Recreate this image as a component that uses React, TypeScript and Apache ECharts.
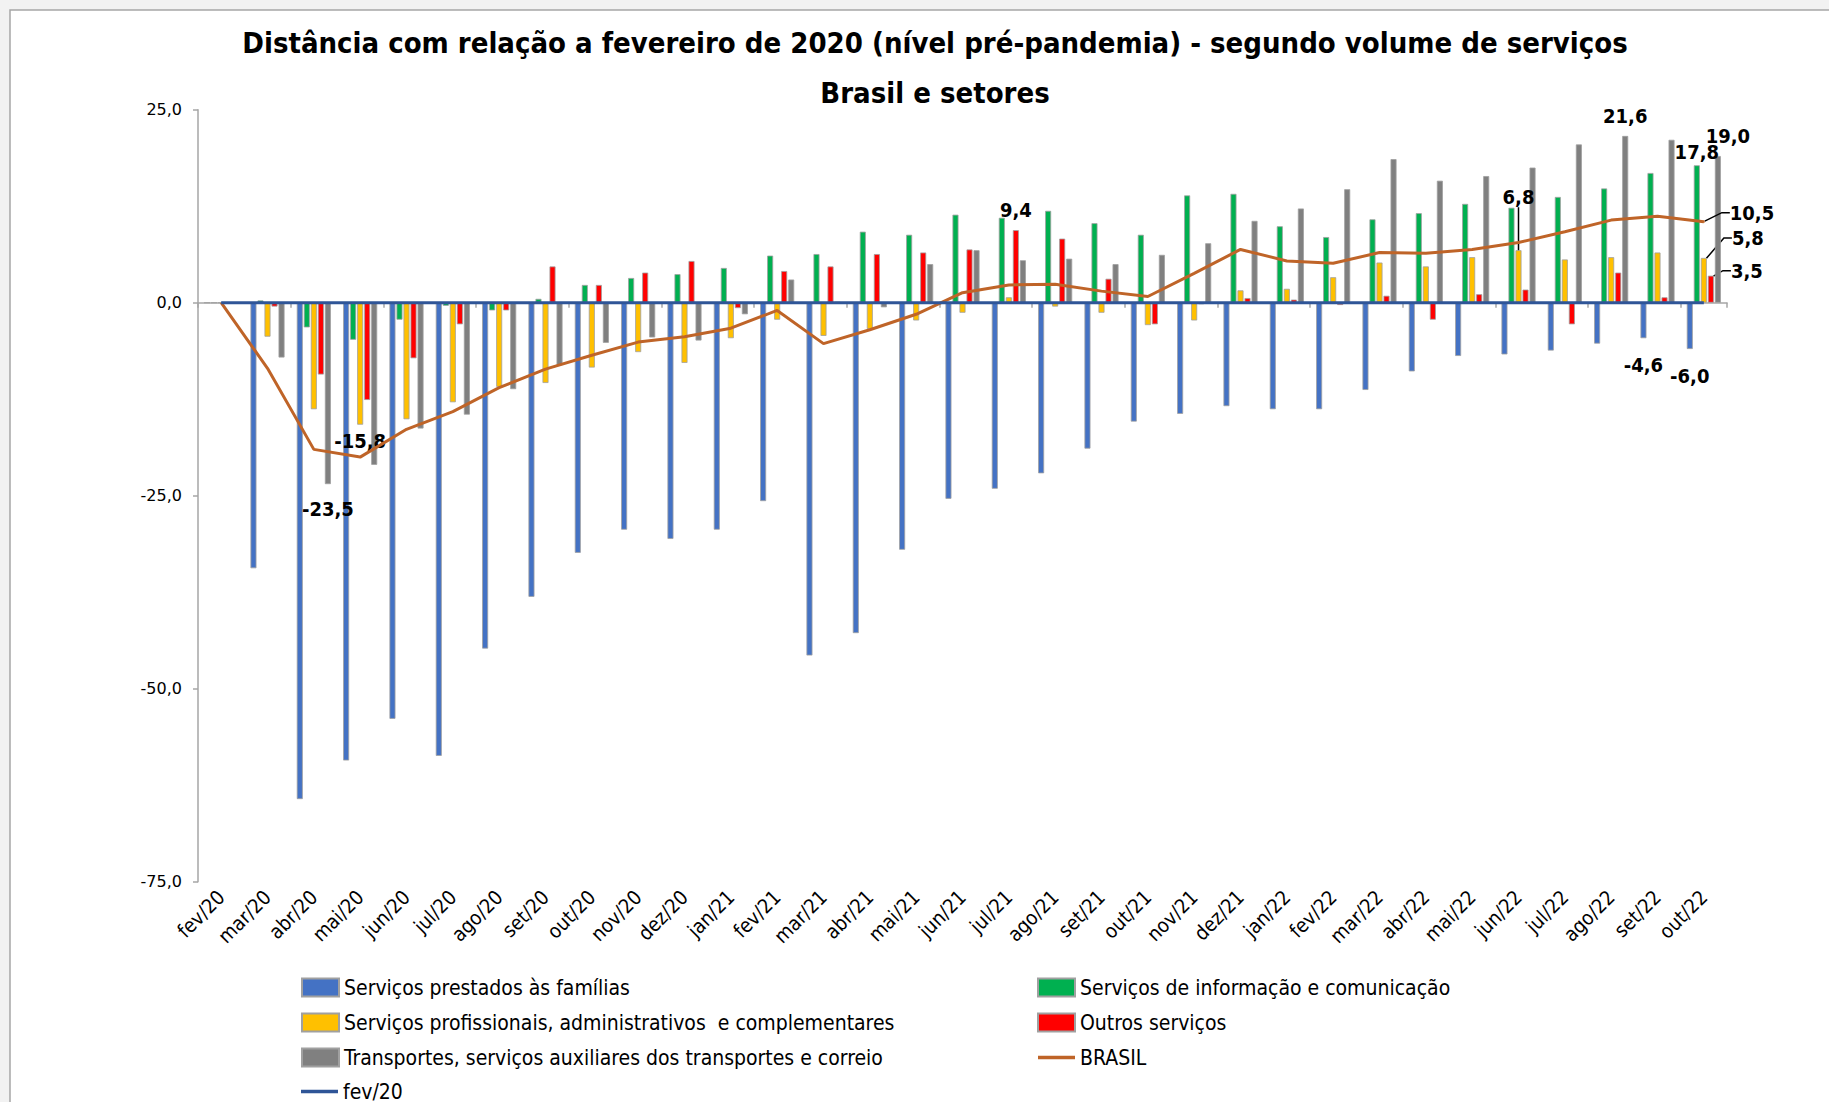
import React, { useEffect, useRef } from 'react';
import * as echarts from 'echarts';

const categories = ['fev/20','mar/20','abr/20','mai/20','jun/20','jul/20','ago/20','set/20','out/20','nov/20','dez/20','jan/21','fev/21','mar/21','abr/21','mai/21','jun/21','jul/21','ago/21','set/21','out/21','nov/21','dez/21','jan/22','fev/22','mar/22','abr/22','mai/22','jun/22','jul/22','ago/22','set/22','out/22'];

const familias = [0, -34.4, -64.3, -59.3, -53.9, -58.7, -44.8, -38.1, -32.4, -29.4, -30.6, -29.4, -25.7, -45.7, -42.8, -32.0, -25.4, -24.1, -22.1, -18.9, -15.4, -14.4, -13.4, -13.8, -13.8, -11.3, -8.9, -6.9, -6.7, -6.2, -5.3, -4.6, -6.0];
const informacao = [0, 0.3, -3.2, -4.8, -2.2, -0.4, -1.0, 0.5, 2.3, 3.2, 3.7, 4.5, 6.1, 6.3, 9.2, 8.8, 11.4, 11.0, 11.9, 10.3, 8.8, 13.9, 14.1, 9.9, 8.5, 10.8, 11.6, 12.8, 12.3, 13.7, 14.8, 16.8, 17.8];
const profissionais = [0, -4.4, -13.8, -15.8, -15.1, -12.9, -10.9, -10.4, -8.4, -6.4, -7.8, -4.6, -2.2, -4.3, -3.4, -2.3, -1.3, 0.7, -0.5, -1.3, -2.9, -2.3, 1.6, 1.8, 3.3, 5.2, 4.7, 5.9, 6.8, 5.6, 5.9, 6.5, 5.8];
const outros = [0, -0.5, -9.3, -12.6, -7.2, -2.8, -1.0, 4.7, 2.3, 3.9, 5.4, -0.7, 4.1, 4.7, 6.3, 6.5, 6.9, 9.4, 8.3, 3.1, -2.8, -0.2, 0.6, 0.4, -0.3, 0.9, -2.2, 1.1, 1.7, -2.8, 3.9, 0.7, 3.5];
const transportes = [0, -7.1, -23.5, -21.0, -16.3, -14.5, -11.2, -8.1, -5.2, -4.5, -4.9, -1.5, 3.0, 0.1, -0.6, 5.0, 6.8, 5.5, 5.7, 5.0, 6.2, 7.7, 10.6, 12.2, 14.7, 18.6, 15.8, 16.4, 17.5, 20.5, 21.6, 21.1, 19.0];
const brasil = [0, -8.5, -19.0, -20.0, -16.4, -14.1, -11.0, -8.6, -6.8, -5.1, -4.4, -3.3, -1.0, -5.3, -3.5, -1.5, 1.3, 2.3, 2.4, 1.5, 0.8, 3.8, 6.9, 5.4, 5.1, 6.5, 6.4, 6.9, 7.8, 9.2, 10.7, 11.2, 10.5];
const fev20 = [0, 0, 0, 0, 0, 0, 0, 0, 0, 0, 0, 0, 0, 0, 0, 0, 0, 0, 0, 0, 0, 0, 0, 0, 0, 0, 0, 0, 0, 0, 0, 0, 0];

const yTicks = { min: -75, max: 25, interval: 25 };

const NAMES = {
  familias: 'Serviços prestados às famílias',
  informacao: 'Serviços de informação e comunicação',
  profissionais: 'Serviços profissionais, administrativos  e complementares',
  outros: 'Outros serviços',
  transportes: 'Transportes, serviços auxiliares dos transportes e correio',
  brasil: 'BRASIL',
  fev20: 'fev/20',
};

const NARROW = "'Liberation Sans Narrow', 'Arial Narrow', 'DejaVu Sans Condensed', sans-serif";
const fmt = (v: number) => v.toFixed(1).replace('.', ',').replace('-0,0', '0,0');

const leader = (length2: number) => ({
  show: true,
  length2,
  minTurnAngle: 0,
  lineStyle: { color: '#000', width: 1.5 },
});

type LabelSpec = Record<number, { label: any; labelLine?: any; move?: { dx: number; dy: number }; symbolSize?: number }>;

const familiasLabels: LabelSpec = {
  31: { label: { position: 'bottom', distance: 17 } },
  32: { label: { position: 'bottom', distance: 17 } },
};
const informacaoLabels: LabelSpec = {
  32: { label: { position: 'top', distance: 3 } },
};
const profissionaisLabels: LabelSpec = {
  3: { label: { position: 'bottom', distance: 6 } },
  28: { label: { position: 'top', distance: 5, padding: [2, 4] }, labelLine: leader(0), move: { dx: 0, dy: -36 } },
  32: { label: { position: 'top', distance: 5, padding: [2, 6] }, labelLine: leader(8), move: { dx: 44, dy: -3 } },
};
const outrosLabels: LabelSpec = {
  17: { label: { position: 'top', distance: 10 } },
  32: { label: { position: 'top', distance: 5, padding: [2, 6] }, labelLine: leader(8), move: { dx: 36, dy: 12 } },
};
const transportesLabels: LabelSpec = {
  2: { label: { position: 'bottom', distance: 15 } },
  30: { label: { position: 'top', distance: 10 } },
  32: { label: { position: 'top', distance: 10 }, move: { dx: 10, dy: 0 } },
};
const brasilLabels: LabelSpec = {
  32: { label: { position: 'right', distance: 5, padding: [2, 6] }, labelLine: leader(8), move: { dx: 14, dy: -9 }, symbolSize: 2 },
};

const withLabels = (values: number[], spec: LabelSpec) =>
  values.map((v, i) => {
    const s = spec[i];
    if (!s) return v;
    const item: any = { value: v, label: { show: true, ...s.label } };
    if (s.labelLine) item.labelLine = s.labelLine;
    if (s.symbolSize) item.symbolSize = s.symbolSize;
    return item;
  });

const layoutFrom = (spec: LabelSpec) => (params: any) => {
  const s = spec[params.dataIndex];
  return s && s.move ? { dx: s.move.dx, dy: s.move.dy } : {};
};

const dataLabelStyle = {
  show: false,
  formatter: (p: any) => fmt(Number(p.value)),
  fontFamily: NARROW,
  fontWeight: 'bold' as const,
  fontSize: 20,
  color: '#000',
};

const barColors = {
  familias: '#4472C4',
  informacao: '#00B050',
  profissionais: '#FFC000',
  outros: '#FF0000',
  transportes: '#808080',
};

const makeBar = (name: string, values: number[], color: string, spec: LabelSpec) => ({
  name,
  type: 'bar',
  xAxisIndex: 0,
  yAxisIndex: 0,
  data: withLabels(values, spec),
  barWidth: 6,
  barGap: '17%',
  itemStyle: { color, borderColor: '#A0A0A0', borderWidth: 0.8 },
  label: dataLabelStyle,
  labelLayout: layoutFrom(spec),
});

const legendText = { fontFamily: NARROW, fontSize: 21, color: '#000' };
const LINE_ICON = 'path://M0 0H40V4H0Z';

const legendBase = (left: number, top: number, data: any[]) => ({
  orient: 'vertical',
  left,
  top,
  itemGap: 14,
  itemWidth: 37,
  itemHeight: 18,
  textStyle: legendText,
  data,
});

export default function App() {
  const ref = useRef<HTMLDivElement>(null);
  useEffect(() => {
    document.body.style.margin = '0';
    const chart = echarts.init(ref.current!, undefined, { renderer: 'svg' });
    const option: any = {
      animation: false,
      backgroundColor: '#F2F2F2',
      title: {
        text: 'Distância com relação a fevereiro de 2020 (nível pré-pandemia) - segundo volume de serviços\nBrasil e setores',
        left: 930,
        top: 13,
        textAlign: 'center',
        textStyle: {
          fontFamily: NARROW,
          fontWeight: 'bold',
          fontSize: 29,
          lineHeight: 50,
          color: '#000',
        },
      },
      graphic: [
        {
          type: 'rect',
          z: -10,
          silent: true,
          shape: { x: 10, y: 10, width: 1840, height: 1110 },
          style: { fill: '#FFFFFF', stroke: '#A6A6A6', lineWidth: 1.5 },
        },
      ],
      grid: { left: 198, right: 102, top: 109.7, bottom: 220.3, containLabel: false },
      legend: [
        legendBase(296, 972, [
          { name: NAMES.familias, icon: 'rect' },
          { name: NAMES.profissionais, icon: 'rect' },
          { name: NAMES.transportes, icon: 'rect' },
        ]),
        legendBase(296, 1076, [{ name: NAMES.fev20, icon: LINE_ICON }]),
        legendBase(1032, 972, [
          { name: NAMES.informacao, icon: 'rect' },
          { name: NAMES.outros, icon: 'rect' },
          { name: NAMES.brasil, icon: LINE_ICON },
        ]),
      ],
      xAxis: [
        {
          type: 'category',
          data: categories,
          position: 'bottom',
          boundaryGap: true,
          axisLine: { show: true, onZero: true, lineStyle: { color: '#A6A6A6', width: 1.5 } },
          axisTick: { show: true, length: 5, lineStyle: { color: '#A6A6A6', width: 1.5 } },
          axisLabel: { show: false },
          splitLine: { show: false },
        },
        {
          type: 'category',
          data: categories,
          position: 'bottom',
          boundaryGap: true,
          axisLine: { show: false, onZero: false },
          axisTick: { show: false },
          splitLine: { show: false },
          axisLabel: {
            show: true,
            interval: 0,
            rotate: 45,
            margin: 12,
            fontFamily: NARROW,
            fontSize: 20,
            color: '#000',
          },
        },
      ],
      yAxis: {
        type: 'value',
        min: yTicks.min,
        max: yTicks.max,
        interval: yTicks.interval,
        axisLine: { show: true, lineStyle: { color: '#A6A6A6', width: 1.5 } },
        axisTick: { show: true, length: 5, lineStyle: { color: '#A6A6A6', width: 1.5 } },
        splitLine: { show: false },
        axisLabel: {
          margin: 16,
          fontFamily: "'DejaVu Sans', sans-serif",
          fontSize: 16,
          color: '#000',
          formatter: (v: number) => fmt(v),
        },
      },
      series: [
        makeBar(NAMES.familias, familias, barColors.familias, familiasLabels),
        makeBar(NAMES.informacao, informacao, barColors.informacao, informacaoLabels),
        makeBar(NAMES.profissionais, profissionais, barColors.profissionais, profissionaisLabels),
        makeBar(NAMES.outros, outros, barColors.outros, outrosLabels),
        makeBar(NAMES.transportes, transportes, barColors.transportes, transportesLabels),
        {
          name: NAMES.brasil,
          type: 'line',
          data: withLabels(brasil, brasilLabels),
          symbol: 'circle',
          symbolSize: 0,
          showSymbol: true,
          showAllSymbol: true,
          z: 4,
          lineStyle: { color: '#BF6428', width: 3 },
          itemStyle: { color: '#BF6428' },
          label: dataLabelStyle,
          labelLayout: layoutFrom(brasilLabels),
        },
        {
          name: NAMES.fev20,
          type: 'line',
          data: fev20,
          symbol: 'none',
          z: 5,
          lineStyle: { color: '#2F5597', width: 3 },
          itemStyle: { color: '#2F5597' },
        },
      ],
    };
    chart.setOption(option);
    return () => chart.dispose();
  }, []);
  return <div ref={ref} style={{ width: 1829, height: 1102 }} />;
}
